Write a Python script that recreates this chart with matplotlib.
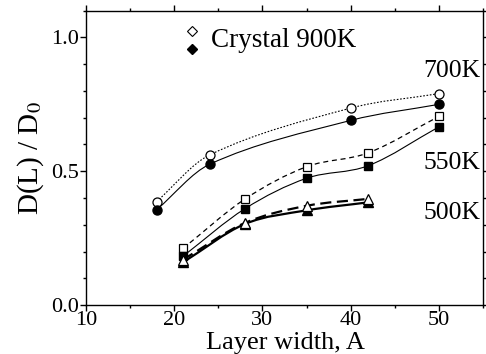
import numpy as np
import matplotlib.pyplot as plt
from matplotlib.path import Path
from matplotlib.patches import PathPatch
from matplotlib.ticker import MultipleLocator

plt.rcParams['font.family'] = ['Liberation Serif', 'DejaVu Serif']
plt.rcParams['mathtext.fontset'] = 'stix'

# données
x_700 = [18, 24, 40, 50]
y_700_open = [0.387, 0.561, 0.736, 0.790]
y_700_fill = [0.356, 0.526, 0.690, 0.750]

x_550 = [21, 28, 35, 42, 50]
y_550_open = [0.212, 0.396, 0.517, 0.569, 0.705]
y_550_fill = [0.183, 0.360, 0.474, 0.521, 0.666]

x_500 = [21, 28, 35, 42]
y_500_open = [0.170, 0.307, 0.371, 0.397]
y_500_fill = [0.160, 0.303, 0.354, 0.384]

labels_temp = ['700K', '550K', '500K']
label_y = [0.873, 0.531, 0.345]


def smooth_path(x, y):
    # courbe de Bezier (Hermite en x) passant par les points, style "spline" d'Origin
    x = np.asarray(x, float)
    y = np.asarray(y, float)
    n = len(x)
    m = np.zeros(n)
    for i in range(n):
        a, b = max(i - 1, 0), min(i + 1, n - 1)
        m[i] = (y[b] - y[a]) / (x[b] - x[a])
    verts = [(x[0], y[0])]
    codes = [Path.MOVETO]
    for i in range(n - 1):
        h = x[i + 1] - x[i]
        verts += [(x[i] + h / 3, y[i] + m[i] * h / 3),
                  (x[i + 1] - h / 3, y[i + 1] - m[i + 1] * h / 3),
                  (x[i + 1], y[i + 1])]
        codes += [Path.CURVE4] * 3
    return Path(verts, codes)


def add_curve(ax, x, y, ls, lw):
    ax.add_patch(PathPatch(smooth_path(x, y), facecolor='none', edgecolor='black',
                           linestyle=ls, linewidth=lw, zorder=2))


fig = plt.figure(figsize=(4.86, 3.54), dpi=100)
ax = fig.add_axes([0.177, 0.138, 0.817, 0.832])

add_curve(ax, x_700, y_700_open, (0, (1.5, 1.5)), 0.8)
add_curve(ax, x_700, y_700_fill, '-', 0.8)
add_curve(ax, x_550, y_550_open, (0, (4, 3)), 0.9)
add_curve(ax, x_550, y_550_fill, '-', 0.8)
add_curve(ax, x_500, y_500_open, (0, (5, 2.5)), 1.6)
add_curve(ax, x_500, y_500_fill, '-', 1.6)

ms = 6.5
ax.plot(x_700, y_700_open, 'o', ms=ms, mfc='white', mec='black', mew=0.9, zorder=3)
ax.plot(x_700, y_700_fill, 'o', ms=ms, mfc='black', mec='black', zorder=3)
ax.plot(x_550, y_550_open, 's', ms=6, mfc='white', mec='black', mew=0.9, zorder=3)
ax.plot(x_550, y_550_fill, 's', ms=6, mfc='black', mec='black', zorder=3)
ax.plot(x_500, y_500_fill, '^', ms=6.5, mfc='black', mec='black', zorder=3)
ax.plot(x_500, y_500_open, '^', ms=7, mfc='white', mec='black', mew=0.9, zorder=4)

# légende "Crystal 900K"
ax.plot([22.0], [1.024], 'D', ms=5, mfc='white', mec='black', mew=0.8, clip_on=False)
ax.plot([22.0], [0.958], 'D', ms=5, mfc='black', mec='black', clip_on=False)
ax.text(24.2, 0.99, 'Crystal 900K', fontsize=19.5, va='center', ha='left')

for lab, yl in zip(labels_temp, label_y):
    ax.text(54.7, yl, lab, fontsize=18.5, ha='right', va='center', zorder=5,
            bbox=dict(facecolor='white', edgecolor='none', pad=0.5))

ax.set_xlim(10, 55)
ax.set_ylim(0, 1.1)
ax.xaxis.set_major_locator(MultipleLocator(10))
ax.xaxis.set_minor_locator(MultipleLocator(5))
ax.yaxis.set_minor_locator(MultipleLocator(0.1))
ax.set_yticks([0.0, 0.5, 1.0])
ax.set_yticklabels(['0.0', '0.5', '1.0'])

ax.tick_params(which='both', top=True, right=True, labelsize=16, width=1)
ax.tick_params(which='major', length=4)
ax.tick_params(which='minor', length=2.5)
ax.tick_params(axis='x', which='both', direction='out', pad=0)
ax.tick_params(axis='y', which='both', direction='out', pad=1)
for s in ax.spines.values():
    s.set_linewidth(1)

ax.set_xlabel('Layer width, A', fontsize=19)
ax.xaxis.set_label_coords(0.587, 0.0, transform=fig.transFigure)
ax.xaxis.label.set_va('bottom')
ax.set_ylabel(r'D(L) / D$_0$', fontsize=21, labelpad=4)

fig.savefig('out.png', dpi=100)
